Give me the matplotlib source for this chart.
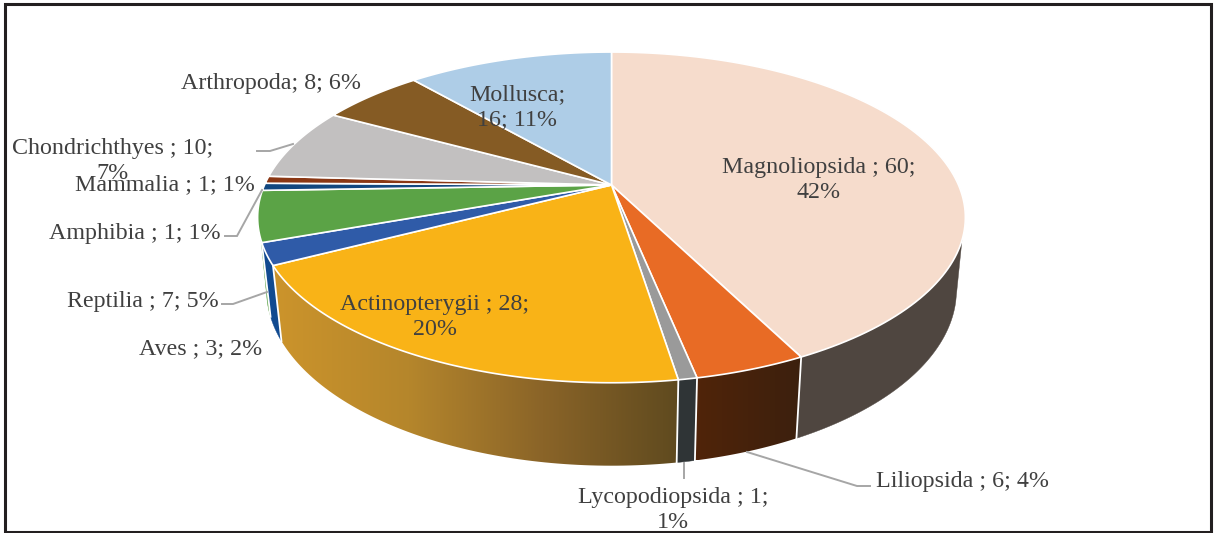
import numpy as np
import matplotlib
matplotlib.use("Agg")
import matplotlib.pyplot as plt
from matplotlib.patches import Polygon, Rectangle
from matplotlib.colors import LinearSegmentedColormap

# data (clockwise from 12 o'clock)
categories = ["Magnoliopsida", "Liliopsida", "Lycopodiopsida", "Actinopterygii", "Aves",
              "Reptilia", "Amphibia", "Mammalia", "Chondrichthyes", "Arthropoda", "Mollusca"]
counts = [60, 6, 1, 28, 3, 7, 1, 1, 10, 8, 16]
percents = [42, 4, 1, 20, 2, 5, 1, 1, 7, 6, 11]

top_colors = ["#f6dccc", "#e86b25", "#9a9a9a", "#f9b317", "#2f5ba8", "#5ba346",
              "#12477f", "#8a3714", "#c2c0c0", "#855b24", "#aecde7"]
wall_colors = [["#4f4640"], ["#502409", "#3c200e"], ["#2f3436"],
               ["#cc942b", "#b5862c", "#8a6428", "#5f4a1f"], ["#114a90"], ["#5ba346"],
               ["#12477f"], ["#8a3714"], ["#c2c0c0"], ["#855b24"], ["#aecde7"]]

# label text layout: (text, x, y, ha)
labels = [
    ("Magnoliopsida ; 60;\n42%", 819, 180, "center"),
    ("Liliopsida ; 6; 4%", 876, 482, "left"),
    ("Lycopodiopsida ; 1;\n1%", 673, 510, "center"),
    ("Actinopterygii ; 28;\n20%", 435, 317, "center"),
    ("Aves ; 3; 2%", 139, 349, "left"),
    ("Reptilia ; 7; 5%", 67, 301, "left"),
    ("Amphibia ; 1; 1%", 49, 233, "left"),
    ("Mammalia ; 1; 1%", 75, 185, "left"),
    ("Chondrichthyes ; 10;\n7%", 113, 161, "center"),
    ("Arthropoda; 8; 6%", 181, 83, "left"),
    ("Mollusca;\n16; 11%", 517, 107, "center"),
]
leaders = [
    ([870, 857, 747], [486, 486, 452]),
    ([684, 684], [478, 463]),
    ([222, 233, 267], [304, 304, 292]),
    ([225, 237, 262], [236, 236, 190]),
    ([257, 270, 293], [151, 151, 144]),
]

fig = plt.figure(figsize=(12.14, 5.33), dpi=100)
ax = fig.add_axes([0, 0, 1, 1])
ax.set_xlim(0, 1214)
ax.set_ylim(533, 0)
ax.axis("off")

K = 0.196


def project(theta, ax0, ay0, a, b):
    u, v = np.sin(theta), np.cos(theta)
    w = 1 + K * v
    return ax0 + a * u / w, ay0 - b * v / w


TOP = (611.5, 185.0, 347.0, 159.0)
LOW = (611.5, 255.5, 338.3, 169.0)

# angular range of the visible outer wall on each face
TOP_LIM = np.radians([109, 251])
LOW_LIM = np.radians([105, 255])

edges = np.concatenate([[0], np.cumsum(counts)]) / np.sum(counts) * 2 * np.pi

# walls
for i in range(len(counts)):
    a, b = edges[i], edges[i + 1]
    if b <= TOP_LIM[0] or a >= TOP_LIM[1]:
        continue
    tht = np.linspace(max(a, TOP_LIM[0]), min(b, TOP_LIM[1]), 80)
    thl = np.linspace(max(a, LOW_LIM[0]), min(b, LOW_LIM[1]), 80)
    xt, yt = project(tht, *TOP)
    xl, yl = project(thl, *LOW)
    pts = np.column_stack([np.r_[xt, xl[::-1]], np.r_[yt, yl[::-1]]])
    cols = wall_colors[i]
    if len(cols) == 1:
        ax.add_patch(Polygon(pts, closed=True, fc=cols[0], ec=cols[0], lw=0.3, zorder=2))
    else:
        cm = LinearSegmentedColormap.from_list("w", cols)
        patch = Polygon(pts, closed=True, fc="none", ec="none", zorder=2)
        ax.add_patch(patch)
        im = ax.imshow(np.linspace(0, 1, 256)[None, :], cmap=cm, aspect="auto", zorder=2,
                       extent=[pts[:, 0].min(), pts[:, 0].max(), pts[:, 1].max(), pts[:, 1].min()])
        im.set_clip_path(patch)
ax.set_xlim(0, 1214)
ax.set_ylim(533, 0)

# white dividers between wall segments
for e in edges:
    if TOP_LIM[0] < e < TOP_LIM[1]:
        x0, y0 = project(e, *TOP)
        x1, y1 = project(e, *LOW)
        ax.plot([x0, x1], [y0, y1], color="white", lw=1.3, zorder=2.5)

# top face
for i in range(len(counts)):
    th = np.linspace(edges[i], edges[i + 1], 120)
    x, y = project(th, *TOP)
    pts = np.column_stack([np.r_[TOP[0], x], np.r_[TOP[1], y]])
    ax.add_patch(Polygon(pts, closed=True, fc=top_colors[i], ec="white", lw=1.2, zorder=3))

for lx, ly in leaders:
    ax.plot(lx, ly, color="#a6a6a6", lw=1.4, zorder=4, solid_joinstyle="miter")

for text, x, y, ha in labels:
    ax.text(x, y, text, ha=ha, va="center", multialignment="center", fontsize=17.3,
            family="Liberation Serif", color="#404040", linespacing=1.26, zorder=5)

# panel frame
ax.add_patch(Rectangle((5.0, 4.0), 1205.5, 528.0, fc="none", ec="#231f20", lw=2.2, zorder=6))

fig.savefig("out.png", dpi=100)
